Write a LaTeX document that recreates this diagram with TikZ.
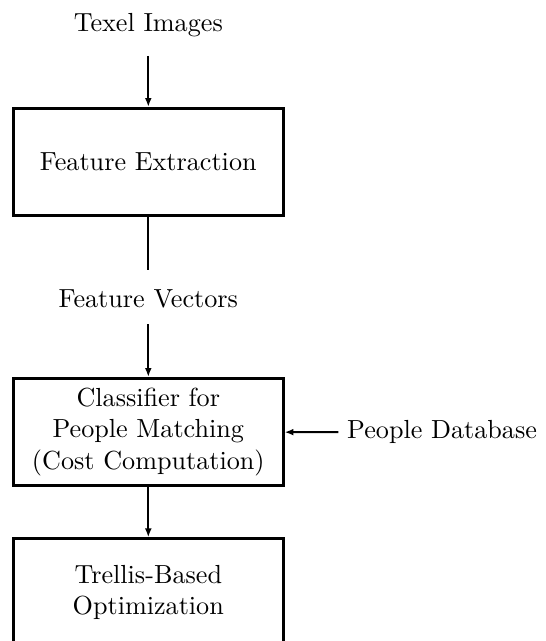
\documentclass[tikz,border=0pt]{standalone}
\usetikzlibrary{arrows.meta}
\begin{document}
\begin{tikzpicture}[x=0.3824pt,y=-0.3824pt,
  stagebox/.style={draw,line width=1pt,minimum width=103.2pt,minimum height=41.1pt,inner sep=0pt,align=center},
  plainlabel/.style={inner sep=0pt},
  flow/.style={line width=0.76pt,-{Latex[length=3.4pt,width=2.6pt]}},
  plainline/.style={line width=0.76pt}]
\useasboundingbox (0,0) rectangle (545,641);
\node[plainlabel,anchor=base] (ti) at (148.3,31.6) {Texel Images};
\node[stagebox] (fe) at (148.3,162) {Feature Extraction};
\node[plainlabel,anchor=base] (fv) at (148.3,307.7) {Feature Vectors};
\node[stagebox] (cl) at (148.3,432) {Classifier for\\People Matching\\(Cost Computation)};
\node[plainlabel,anchor=west] (pd) at (346.7,432.3) {People Database};
\node[stagebox] (tb) at (148.3,592.4) {Trellis-Based\\Optimization};
\draw[flow,shorten <=7pt] (ti) -- (fe);
\draw[plainline,shorten >=7.2pt] (fe) -- (fv);
\draw[flow,shorten <=6pt] (fv) -- (cl);
\draw[flow,shorten <=3.2pt] (pd) -- (cl);
\draw[flow] (cl) -- (tb);
\end{tikzpicture}
\end{document}
